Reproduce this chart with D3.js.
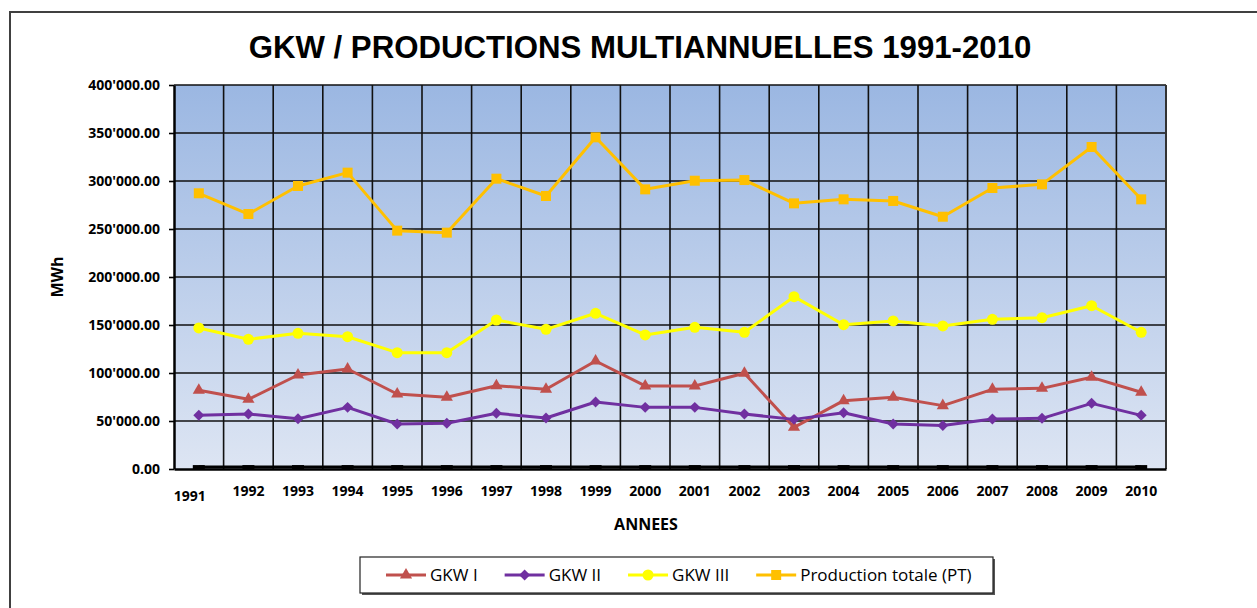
<!DOCTYPE html>
<html>
<head>
<meta charset="utf-8">
<script src="https://cdn.jsdelivr.net/npm/d3@7"></script>
<style>
  body { margin: 0; background: #fff; overflow: hidden; }
  svg { display: block; }
</style>
</head>
<body>
<div id="chart"></div>
<script>
let years = ['1991', '1992', '1993', '1994', '1995', '1996', '1997', '1998', '1999', '2000',
  '2001', '2002', '2003', '2004', '2005', '2006', '2007', '2008', '2009', '2010']

let gkw1 = [82000, 72600, 97900, 104200, 78100, 74700, 86800, 83000, 112500, 86500,
  86500, 99700, 43400, 71200, 74700, 66000, 83000, 84000, 95500, 79900]

let gkw2 = [55900, 57300, 52400, 64200, 46900, 47600, 58000, 53100, 69800, 64200,
  64200, 57300, 51700, 58600, 46900, 45200, 52100, 52800, 68400, 55900]

let gkw3 = [146900, 135100, 141300, 137800, 121200, 121200, 155200, 145500, 162200, 139600,
  147600, 142400, 179500, 150300, 154200, 149000, 155900, 157600, 170100, 142400]

let total = [287200, 265600, 294800, 308700, 248300, 246200, 302400, 284400, 345500, 291300,
  300300, 301000, 276700, 280900, 279200, 262800, 292700, 296500, 335400, 280900]

// hidden series drawn in black along the base of the chart
let baseline = [2000, 2000, 2000, 2000, 2000, 2000, 2000, 2000, 2000, 2000,
  2000, 2000, 2000, 2000, 2000, 2000, 2000, 2000, 2000, 2000]

let yTicks = [0, 50000, 100000, 150000, 200000, 250000, 300000, 350000, 400000]

let width = 1257
let height = 608
let margin = { top: 85, right: 91, bottom: 139, left: 174 }
let innerWidth = width - margin.left - margin.right
let innerHeight = height - margin.top - margin.bottom

let fmt = d3.formatLocale({ decimal: '.', thousands: "'", grouping: [3], currency: ['', ''] }).format(',.2f')

let svg = d3.select('#chart').append('svg')
  .attr('width', width)
  .attr('height', height)
  .attr('font-family', "'Open Sans', sans-serif")

// chart frame: only the left and top edges are inside the picture
svg.append('path')
  .attr('d', 'M10,' + height + 'V12H' + width)
  .attr('fill', 'none')
  .attr('stroke', '#404040')
  .attr('stroke-width', 2)

let grad = svg.append('defs').append('linearGradient')
  .attr('id', 'bg')
  .attr('x1', 0).attr('y1', 0).attr('x2', 0).attr('y2', 1)
grad.append('stop').attr('offset', '0%').attr('stop-color', '#9bb7e2')
grad.append('stop').attr('offset', '100%').attr('stop-color', '#dde5f3')

svg.append('text')
  .attr('x', 640).attr('y', 58)
  .attr('text-anchor', 'middle')
  .attr('font-family', "'Liberation Sans', Arial, sans-serif")
  .attr('font-weight', 'bold')
  .attr('font-size', 31.2)
  .text('GKW / PRODUCTIONS MULTIANNUELLES 1991-2010')

let g = svg.append('g')
  .attr('transform', 'translate(' + margin.left + ',' + margin.top + ')')

let xScale = d3.scaleBand().domain(years).range([0, innerWidth]).padding(0)
let yScale = d3.scaleLinear().domain([0, 400000]).range([innerHeight, 0])
let bw = xScale.bandwidth()

g.append('rect')
  .attr('width', innerWidth)
  .attr('height', innerHeight)
  .attr('fill', 'url(#bg)')

// grid
g.selectAll('.hgrid')
  .data(yTicks.slice(1))
  .enter().append('line')
  .attr('class', 'hgrid')
  .attr('x1', 0).attr('x2', innerWidth)
  .attr('y1', d => yScale(d)).attr('y2', d => yScale(d))
  .attr('stroke', '#111')
  .attr('stroke-width', 1.6)

g.selectAll('.vgrid')
  .data(years.slice(1))
  .enter().append('line')
  .attr('class', 'vgrid')
  .attr('x1', d => xScale(d)).attr('x2', d => xScale(d))
  .attr('y1', 0).attr('y2', innerHeight)
  .attr('stroke', '#111')
  .attr('stroke-width', 1.6)

g.append('line')
  .attr('x1', innerWidth).attr('x2', innerWidth)
  .attr('y1', 0).attr('y2', innerHeight)
  .attr('stroke', '#333')
  .attr('stroke-width', 2)

let X = (d, i) => xScale(years[i]) + bw / 2
let Y = d => yScale(d)
let line = d3.line().x(X).y(Y)

let series = [
  { name: null, values: baseline, color: '#000', symbol: 'dash' },
  { name: 'GKW I', values: gkw1, color: '#c0504d', symbol: d3.symbolTriangle, size: 64 },
  { name: 'GKW II', values: gkw2, color: '#7030a0', symbol: d3.symbolSquare, size: 60, rotate: 45 },
  { name: 'GKW III', values: gkw3, color: '#ffff00', symbol: d3.symbolCircle, size: 95 },
  { name: 'Production totale (PT)', values: total, color: '#ffc000', symbol: d3.symbolSquare, size: 100 }
]

function drawMarker (sel, s) {
  if (s.symbol === 'dash') {
    sel.append('rect')
      .attr('x', -6).attr('y', -2)
      .attr('width', 12).attr('height', 4)
      .attr('fill', s.color)
  } else {
    sel.append('path')
      .attr('d', d3.symbol().type(s.symbol).size(s.size))
      .attr('transform', s.rotate ? 'rotate(' + s.rotate + ')' : null)
      .attr('fill', s.color)
  }
}

series.forEach(s => {
  let sg = g.append('g').attr('class', 'series')
  sg.append('path')
    .datum(s.values)
    .attr('d', line)
    .attr('fill', 'none')
    .attr('stroke', s.color)
    .attr('stroke-width', 3)
    .attr('stroke-linejoin', 'round')
  sg.selectAll('.marker')
    .data(s.values)
    .enter().append('g')
    .attr('class', 'marker')
    .attr('transform', (d, i) => 'translate(' + X(d, i) + ',' + Y(d) + ')')
    .each(function () { drawMarker(d3.select(this), s) })
})

// axes
let yAxis = g.append('g')
  .call(d3.axisLeft(yScale).tickValues(yTicks).tickSize(5).tickSizeOuter(0).tickPadding(9).tickFormat(fmt))
let xAxis = g.append('g')
  .attr('transform', 'translate(0,' + innerHeight + ')')
  .call(d3.axisBottom(xScale).tickSize(0).tickSizeOuter(0).tickPadding(17))

g.selectAll('.domain').attr('stroke', '#000').attr('stroke-width', 2.5)
yAxis.selectAll('.tick line').attr('stroke', '#000').attr('stroke-width', 1.6)

;[yAxis, xAxis].forEach(ax => ax
  .attr('font-family', "'Open Sans', sans-serif")
  .attr('font-weight', 'bold')
  .attr('font-size', 14))
g.selectAll('.tick text').attr('fill', '#000')

// Excel drops the first category label a little
xAxis.select('.tick text').attr('dx', '-9').attr('dy', '1.1em')

svg.append('text')
  .attr('transform', 'translate(63,' + (margin.top + innerHeight / 2) + ') rotate(-90)')
  .attr('text-anchor', 'middle')
  .attr('font-weight', 'bold')
  .attr('font-size', 16)
  .text('MWh')

svg.append('text')
  .attr('x', 646).attr('y', 530)
  .attr('text-anchor', 'middle')
  .attr('font-weight', 'bold')
  .attr('font-size', 16)
  .text('ANNEES')

// legend
let legend = svg.append('g').attr('transform', 'translate(360,557)')
legend.append('rect')
  .attr('x', 2).attr('y', 2)
  .attr('width', 633).attr('height', 36)
  .attr('fill', '#555')
legend.append('rect')
  .attr('width', 633).attr('height', 36)
  .attr('fill', '#fff')
  .attr('stroke', '#222')
  .attr('stroke-width', 1.2)

let lx = 26
series.filter(s => s.name).forEach(s => {
  let item = legend.append('g').attr('transform', 'translate(' + lx + ',18)')
  item.append('line')
    .attr('x1', 0).attr('x2', 40)
    .attr('stroke', s.color)
    .attr('stroke-width', 3)
  drawMarker(item.append('g').attr('transform', 'translate(20,0)'), s)
  let t = item.append('text')
    .attr('x', 44).attr('y', 6)
    .attr('font-size', 17)
    .text(s.name)
  lx += 44 + t.node().getComputedTextLength() + 27
})
</script>
</body>
</html>
